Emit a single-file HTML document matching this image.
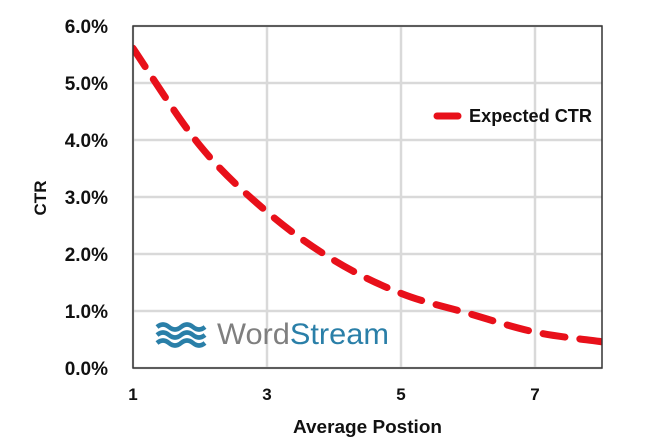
<!DOCTYPE html>
<html><head><meta charset="utf-8"><style>
body{margin:0;background:#fff;}
svg text{font-family:"Liberation Sans",sans-serif;}
</style></head><body>
<svg width="664" height="441" viewBox="0 0 664 441">
<defs><clipPath id="pc"><rect x="133" y="26" width="469" height="342"/></clipPath></defs>
<g id="grid"></g>
<g id="ylabels"></g>
<g id="xlabels"></g>
<g>
<path d="M157,327 q6,-5 12,0 t12,0 t12,0 t12,0" fill="none" stroke="#2a7fa8" stroke-width="4.5"/>
<path d="M157,335 q6,-5 12,0 t12,0 t12,0 t12,0" fill="none" stroke="#2a7fa8" stroke-width="4.5"/>
<path d="M157,343 q6,-5 12,0 t12,0 t12,0 t12,0" fill="none" stroke="#2a7fa8" stroke-width="4.5"/>
<text x="217" y="344" font-size="30" fill="#7f7f7f" textLength="172" lengthAdjust="spacingAndGlyphs">Word<tspan fill="#2a7fa8">Stream</tspan></text>
</g>
<path id="series" clip-path="url(#pc)" fill="none" stroke="#e8101a" stroke-width="7" stroke-dasharray="22,15" stroke-linecap="round"/>
<rect x="133" y="26" width="469" height="342" fill="none" stroke="#333" stroke-width="1.5"/>
<g>
<line x1="437" y1="116" x2="458" y2="116" stroke="#e8101a" stroke-width="7" stroke-linecap="round"/>
<text x="469" y="122" font-size="18" font-weight="bold" fill="#111" textLength="123" lengthAdjust="spacingAndGlyphs">Expected CTR</text>
</g>
<text x="293" y="433" font-size="18" font-weight="bold" fill="#111" textLength="149" lengthAdjust="spacingAndGlyphs">Average Postion</text>
<text transform="translate(46,198) rotate(-90)" font-size="17" font-weight="bold" text-anchor="middle" fill="#111">CTR</text>
</svg>
<script>
const positions=[1,2,3,4,5,6,7,8];
const ctrValues=[5.61,3.9,2.74,1.89,1.31,0.96,0.63,0.46];
const yTicks=[0,1,2,3,4,5,6];
const yTickLabels=["0.0%","1.0%","2.0%","3.0%","4.0%","5.0%","6.0%"];
const xTicks=[1,3,5,7];
const xTickLabels=["1","3","5","7"];
const X0=133,X1=602,Y0=368,Y1=26;
const sx=v=>X0+(v-1)/(8-1)*(X1-X0);
const sy=v=>Y0-(v/6)*(Y0-Y1);
const NS="http://www.w3.org/2000/svg";
const grid=document.getElementById('grid'),yl=document.getElementById('ylabels'),xl=document.getElementById('xlabels');
yTicks.forEach((t,i)=>{
 const l=document.createElementNS(NS,'line');
 l.setAttribute('x1',X0);l.setAttribute('x2',X1);l.setAttribute('y1',sy(t));l.setAttribute('y2',sy(t));
 l.setAttribute('stroke','#d9d9d9');l.setAttribute('stroke-width','2.5');
 
 
 grid.appendChild(l);
 const tx=document.createElementNS(NS,'text');
 tx.setAttribute('x',108);tx.setAttribute('y',sy(t)+7);tx.setAttribute('text-anchor','end');
 tx.setAttribute('font-size','19');tx.setAttribute('font-weight','bold');tx.setAttribute('fill','#111');
 tx.textContent=yTickLabels[i];
 
 
 yl.appendChild(tx);
});
xTicks.forEach((t,i)=>{
 const l=document.createElementNS(NS,'line');
 l.setAttribute('x1',sx(t));l.setAttribute('x2',sx(t));l.setAttribute('y1',Y1);l.setAttribute('y2',Y0);
 l.setAttribute('stroke','#d9d9d9');l.setAttribute('stroke-width','2.5');
 
 
 grid.appendChild(l);
 const tx=document.createElementNS(NS,'text');
 tx.setAttribute('x',sx(t));tx.setAttribute('y',400);tx.setAttribute('text-anchor','middle');
 tx.setAttribute('font-size','17');tx.setAttribute('font-weight','bold');tx.setAttribute('fill','#111');
 tx.textContent=xTickLabels[i];
 
 
 xl.appendChild(tx);
});
const pts=positions.map((p,i)=>[sx(p),sy(ctrValues[i])]);
let d='M'+pts[0][0]+','+pts[0][1];
for(let i=0;i<pts.length-1;i++){
 const p0=pts[Math.max(0,i-1)],p1=pts[i],p2=pts[i+1],p3=pts[Math.min(pts.length-1,i+2)];
 const c1=[p1[0]+(p2[0]-p0[0])/6,p1[1]+(p2[1]-p0[1])/6];
 const c2=[p2[0]-(p3[0]-p1[0])/6,p2[1]-(p3[1]-p1[1])/6];
 d+=` C${c1[0]},${c1[1]} ${c2[0]},${c2[1]} ${p2[0]},${p2[1]}`;
}
document.getElementById('series').setAttribute('d',d);
</script>
</body></html>
